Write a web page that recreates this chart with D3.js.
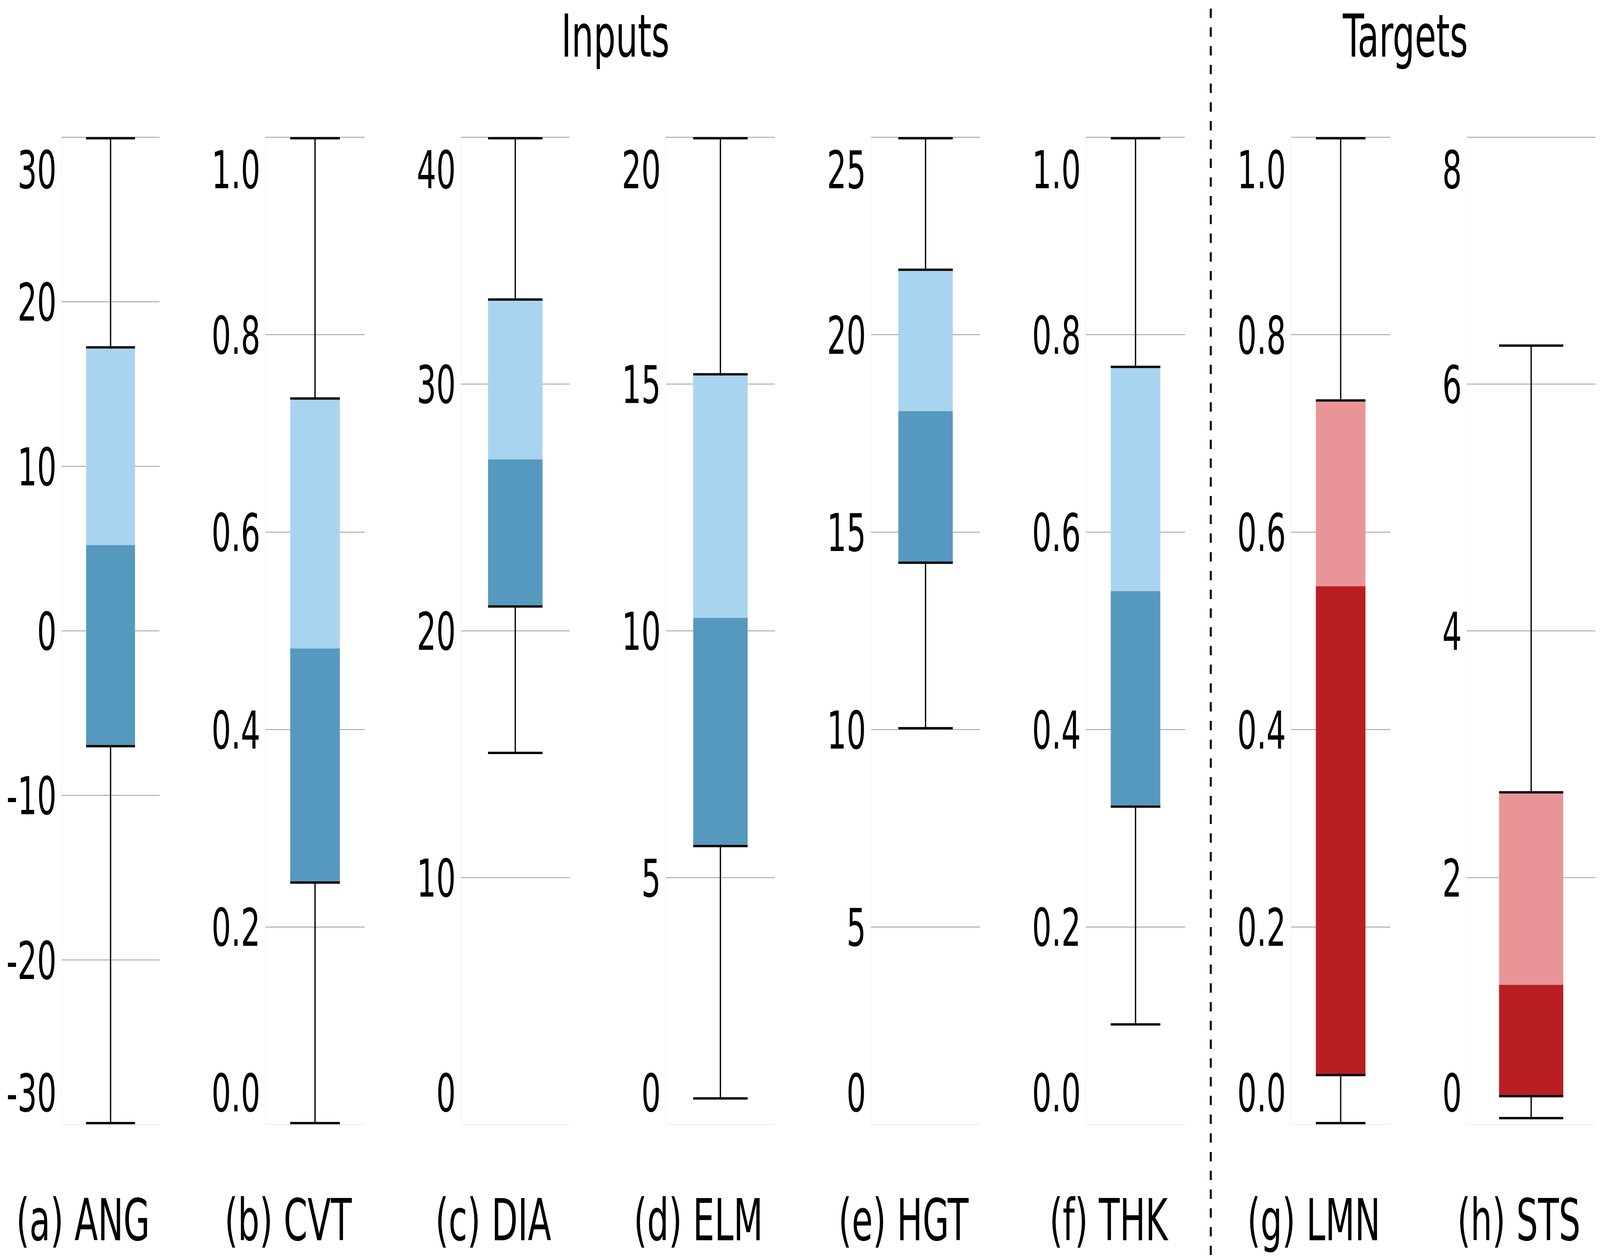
<!DOCTYPE html>
<html><head><meta charset="utf-8">
<script src="https://cdn.jsdelivr.net/npm/d3@7"></script>
<style>
html,body{margin:0;padding:0;background:#fff;overflow:hidden;}
svg{display:block;width:100vw;height:100vh;}
text{font-family:'DejaVu Sans Condensed','DejaVu Sans',sans-serif;font-stretch:condensed;}
</style></head><body>
<svg id="chart" viewBox="0 0 6240 3224" preserveAspectRatio="none"></svg>
<script>
// ---------------- data ----------------
const categories = ["(a) ANG","(b) CVT","(c) DIA","(d) ELM","(e) HGT","(f) THK","(g) LMN","(h) STS"];
const groups = ["Inputs","Inputs","Inputs","Inputs","Inputs","Inputs","Targets","Targets"];
const groupTitles = ["Inputs","Targets"];
const axisMin = [-30, 0, 0, 0, 0, 0, 0, 0];
const axisMax = [30, 1, 40, 20, 25, 1, 1, 8];
const tickValues = [
  [-30,-20,-10,0,10,20,30],
  [0,0.2,0.4,0.6,0.8,1.0],
  [0,10,20,30,40],
  [0,5,10,15,20],
  [0,5,10,15,20,25],
  [0,0.2,0.4,0.6,0.8,1.0],
  [0,0.2,0.4,0.6,0.8,1.0],
  [0,2,4,6,8]
];
const tickDecimals = [0,1,0,0,0,1,1,0];
const whiskerLow  = [-30,  0.0,   15.0,  0.5,   10.0,  0.10,  0.0,   0.04];
const q1          = [-6.95, 0.246, 21.03, 5.66,  14.25, 0.323, 0.051, 0.237];
const median      = [5.2,   0.482, 26.94, 10.26, 18.06, 0.540, 0.545, 1.13];
const q3          = [17.15, 0.734, 33.37, 15.17, 21.61, 0.766, 0.732, 2.68];
const whiskerHigh = [30,    1.0,   40,    20,    25,    1.0,   1.0,   6.32];

// ---------------- style / layout ----------------
const palette = {
  Inputs:  {light:"#a9d4ef", dark:"#5699be"},
  Targets: {light:"#e99597", dark:"#b91e22"}
};
const W = 6240, H = 3224;
const plotTop = 351, plotBottom = 2879;
const labelStart = 25, plotRightOff = 622, tickPad = 20;
const tickFont = 133, captionFont = 148, titleFont = 151;
const capW = 6, whiskW = 5;

const svg = d3.select("#chart");
const xSlot = d3.scaleBand().domain(categories).range([0, 6400]);

function fmtFor(dec){
  const f = d3.format("." + dec + "f");
  return v => f(v).replace("\u2212", "-");
}

categories.forEach((cat, i) => {
  const slot = xSlot(cat);
  const fmt = fmtFor(tickDecimals[i]);
  // measure tick labels
  const tmp = svg.append("g").attr("font-size", tickFont);
  let maxW = 0;
  tickValues[i].forEach(v => {
    const t = tmp.append("text").text(fmt(v));
    maxW = Math.max(maxW, t.node().getComputedTextLength());
  });
  tmp.remove();

  const plotLeft = slot + labelStart + maxW + tickPad;
  const plotRight = slot + plotRightOff;
  const pw = plotRight - plotLeft;
  const y = d3.scaleLinear().domain([axisMin[i], axisMax[i]]).range([plotBottom, plotTop]);

  const g = svg.append("g").attr("transform", `translate(${plotLeft},0)`);

  // faint panel frame (left + bottom)
  g.append("line").attr("x1",0).attr("x2",0).attr("y1",plotTop).attr("y2",plotBottom)
    .attr("stroke","#f2f2f2").attr("stroke-width",2);
  g.append("line").attr("x1",0).attr("x2",pw).attr("y1",plotBottom).attr("y2",plotBottom)
    .attr("stroke","#eeeeee").attr("stroke-width",2);

  const axis = d3.axisLeft(y).tickValues(tickValues[i]).tickSize(-pw)
    .tickPadding(tickPad).tickFormat(fmt);
  const ag = g.append("g").call(axis);
  ag.attr("font-size", tickFont).attr("font-family", null);
  ag.select(".domain").remove();
  ag.selectAll(".tick line")
    .attr("stroke", d => d === axisMin[i] ? "#eeeeee" : "#9a9a9a")
    .attr("stroke-width", 2);
  ag.selectAll(".tick text")
    .attr("fill", "#000")
    .attr("dy", "0.365em")
    .attr("y", d => d === axisMin[i] ? -82 : (d === axisMax[i] ? 82 : 0));

  const cx = pw / 2, bw = pw / 2;
  const col = palette[groups[i]];
  // box halves
  g.append("rect").attr("x", cx - bw/2).attr("width", bw)
    .attr("y", y(q3[i])).attr("height", y(median[i]) - y(q3[i]))
    .attr("fill", col.light);
  g.append("rect").attr("x", cx - bw/2).attr("width", bw)
    .attr("y", y(median[i])).attr("height", y(q1[i]) - y(median[i]))
    .attr("fill", col.dark);
  // whiskers
  [[whiskerHigh[i], q3[i]], [q1[i], whiskerLow[i]]].forEach(([a, b]) => {
    g.append("line").attr("x1", cx).attr("x2", cx)
      .attr("y1", y(a)).attr("y2", y(b))
      .attr("stroke", "#000").attr("stroke-width", whiskW);
  });
  // caps (drawn on the whisker side)
  [[whiskerHigh[i], 1], [q3[i], -1], [q1[i], 1], [whiskerLow[i], -1]].forEach(([v, s]) => {
    const yy = y(v) + s * capW / 2;
    g.append("line").attr("x1", cx - bw/2).attr("x2", cx + bw/2)
      .attr("y1", yy).attr("y2", yy)
      .attr("stroke", "#000").attr("stroke-width", capW);
  });

  // caption
  svg.append("text").attr("x", slot + (labelStart + plotRightOff) / 2).attr("y", 3176)
    .attr("text-anchor", "middle").attr("font-size", captionFont).attr("fill", "#000")
    .text(cat);
});

// divider between inputs and targets
const firstTarget = categories[groups.indexOf("Targets")];
const dividerX = xSlot(firstTarget) - 78;
svg.append("line").attr("x1", dividerX).attr("x2", dividerX).attr("y1", 22).attr("y2", H)
  .attr("stroke", "#000").attr("stroke-width", 8).attr("stroke-dasharray", "24,24");

// group titles
const lastInput = categories[groups.lastIndexOf("Inputs")];
const titleX = {
  Inputs: (xSlot(categories[0]) + xSlot(lastInput) + xSlot.bandwidth()) / 2,
  Targets: (dividerX + W) / 2
};
groupTitles.forEach(t => {
  svg.append("text").attr("x", titleX[t]).attr("y", 145)
    .attr("text-anchor", "middle").attr("font-size", titleFont).attr("fill", "#000")
    .text(t);
});
</script>
</body></html>
